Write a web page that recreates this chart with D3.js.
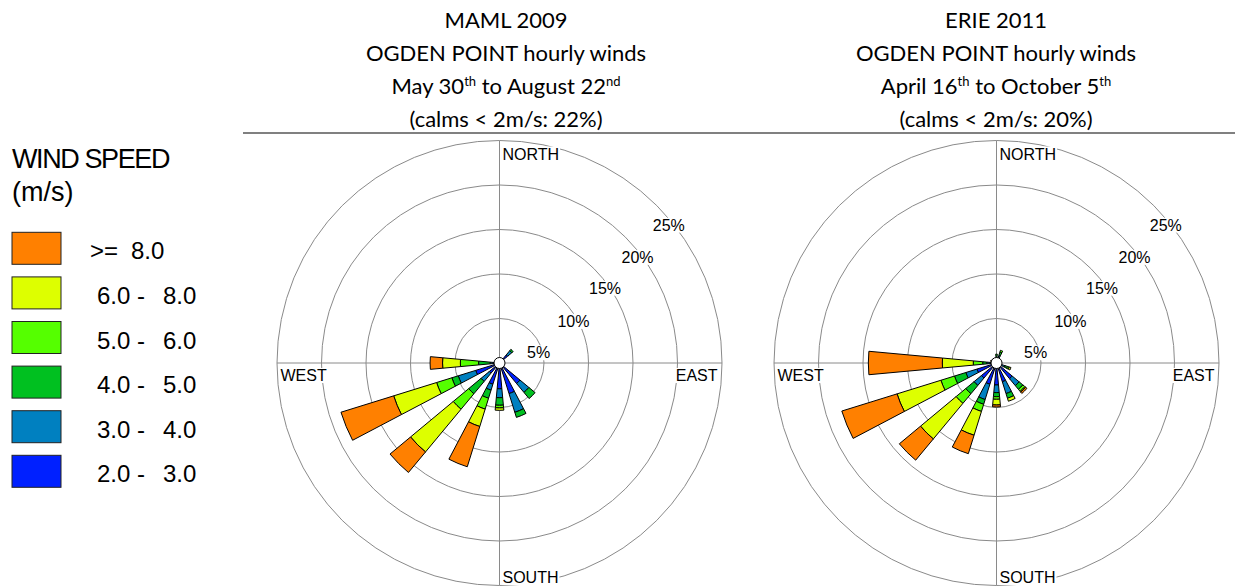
<!DOCTYPE html>
<html>
<head>
<meta charset="utf-8">
<script src="https://cdn.jsdelivr.net/npm/d3@7"></script>
<style>
  body { margin: 0; background: #fff; }
  svg { display: block; }
</style>
</head>
<body>
<svg id="chart" width="1235" height="587"></svg>
<script>
// ---- data -------------------------------------------------------------
const directions = ["N","NNE","NE","ENE","E","ESE","SE","SSE","S","SSW","SW","WSW","W","WNW","NW","NNW"];
const speedClasses = ["2.0 - 3.0","3.0 - 4.0","4.0 - 5.0","5.0 - 6.0","6.0 - 8.0",">= 8.0"];
const classColors = ["#0020ff","#0080c0","#00c020","#55ff00","#ddff00","#ff8000"];
const ringTicks = [5, 10, 15, 20, 25];

// MAML 2009, frequency (%) per direction for each speed class
const maml2to3 = [0.2,0.2,1.2,0.2,0.2,0.3,3.0,3.6,2.9,2.5,1.5,2.8,0.5,0.3,0.2,0.2];
const maml3to4 = [0,0,0.6,0,0,0.1,1.3,2.2,1.0,0.7,1.2,2.05,0.55,0.1,0,0];
const maml4to5 = [0,0,0.2,0,0,0,0.9,0.6,0.85,0.95,1.8,0.75,1.3,0,0,0];
const maml5to6 = [0,0,0,0,0,0,0,0,0.3,1.28,2.26,1.8,2.05,0,0,0];
const maml6to8 = [0,0,0,0,0,0,0,0,0.27,2.04,6.24,5.05,2.0,0,0,0];
const maml8up  = [0,0,0,0,0,0,0,0,0,4.74,3.0,6.2,1.4,0,0,0];

// ERIE 2011, frequency (%) per direction for each speed class
const erie2to3 = [0.4,0.5,0.3,0.2,0.2,0.6,2.3,2.2,2.47,2.5,2.2,2.3,0.5,0.3,0.4,0.2];
const erie3to4 = [0.3,0.4,0.1,0,0,0.4,1.0,1.4,0.86,1.8,1.08,1.3,0.6,0.2,0.2,0];
const erie4to5 = [0.3,0.4,0,0,0,0.3,0.55,0.55,0.46,0.56,1.21,1.34,0.45,0.1,0,0];
const erie5to6 = [0,0.2,0,0,0,0.2,0.3,0,0.29,0.84,1.41,1.6,1.06,0,0,0];
const erie6to8 = [0,0,0,0,0,0.2,0.1,0.35,0.64,2.8,5.2,5.16,3.48,0,0,0];
const erie8up  = [0,0,0,0,0,0,0.2,0,0.22,2.17,3.1,6.5,8.31,0.1,0,0];

const mamlTitle = [
  [["MAML 2009"]],
  [["OGDEN POINT hourly winds"]],
  [["May 30"],["th",true],[" to August 22"],["nd",true]],
  [["(calms < 2m/s: 22%)"]]
];
const erieTitle = [
  [["ERIE 2011"]],
  [["OGDEN POINT hourly winds"]],
  [["April 16"],["th",true],[" to October 5"],["th",true]],
  [["(calms < 2m/s: 20%)"]]
];

// ---- layout -----------------------------------------------------------
const svg = d3.select("#chart");
const R = 222.5;
const rScale = d3.scaleLinear().domain([0, 25]).range([0, R]);
const toRad = d => d * Math.PI / 180;
const dirAngle = d3.scalePoint().domain(directions).range([0, 337.5]);
const barHalfWidth = toRad(5.25);
const tickLabelAngles = [75, 60.5, 54.6, 52.5, 50.8];
const grid = "#8a8a8a";
const titleFont = "Lato,'Open Sans',sans-serif";
const labelFont = "'Liberation Sans',Arial,sans-serif";

function polar(r, deg) {
  const a = toRad(deg);
  return [r * Math.sin(a), -r * Math.cos(a)];
}

function labelWithBg(g, x, y, text, opts) {
  const t = g.append("text")
    .attr("x", x).attr("y", y)
    .attr("font-family", labelFont)
    .attr("font-size", opts.size)
    .attr("text-anchor", opts.anchor || "start")
    .attr("fill", "#000")
    .text(text);
  if (opts.dy) t.attr("dy", opts.dy);
  const bb = t.node().getBBox();
  g.insert("rect", () => t.node())
    .attr("x", bb.x - 1).attr("y", bb.y + 1)
    .attr("width", bb.width + 2).attr("height", bb.height - 2)
    .attr("fill", "#fff");
  return t;
}

function drawRose(cx, cy, series) {
  const g = svg.append("g").attr("transform", `translate(${cx},${cy})`);

  // rings and compass cross
  g.selectAll("circle.ring").data(ringTicks).join("circle")
    .attr("class", "ring")
    .attr("r", d => rScale(d))
    .attr("fill", "none").attr("stroke", grid).attr("stroke-width", 1);
  g.append("line").attr("x1", -R).attr("x2", R).attr("y1", 0).attr("y2", 0)
    .attr("stroke", grid).attr("stroke-width", 1);
  g.append("line").attr("x1", 0).attr("x2", 0).attr("y1", -R).attr("y2", R)
    .attr("stroke", grid).attr("stroke-width", 1);

  // ring percentage labels
  const lg = g.append("g");
  ringTicks.forEach((t, i) => {
    const [x, y] = polar(rScale(t) - 4, tickLabelAngles[i]);
    labelWithBg(lg, x, y, t + "%", { size: 16, anchor: "middle", dy: "0.36em" });
  });

  // compass labels
  const cg = g.append("g");
  labelWithBg(cg, 3, -R + 19, "NORTH", { size: 16 });
  labelWithBg(cg, 3, R - 2.5, "SOUTH", { size: 16 });
  labelWithBg(cg, -R + 3.5, 18, "WEST", { size: 16 });
  labelWithBg(cg, R - 4.5, 18, "EAST", { size: 16, anchor: "end" });

  // stacked wedges
  const arc = d3.arc();
  const segs = [];
  directions.forEach((dir, i) => {
    let cum = 0;
    const a = toRad(dirAngle(dir));
    series.forEach((vals, k) => {
      const v = vals[i];
      if (v > 0) {
        segs.push({ k, a, r0: rScale(cum), r1: rScale(cum + v) });
        cum += v;
      }
    });
  });
  g.append("g").selectAll("path").data(segs).join("path")
    .attr("d", d => arc({ innerRadius: d.r0, outerRadius: d.r1,
                          startAngle: d.a - barHalfWidth, endAngle: d.a + barHalfWidth }))
    .attr("fill", d => classColors[d.k])
    .attr("stroke", "#000").attr("stroke-width", 1).attr("stroke-linejoin", "round");

  // calm circle
  g.append("circle").attr("r", 5.5).attr("fill", "#fff").attr("stroke", "#000").attr("stroke-width", 1);
}

function drawTitle(cx, lines) {
  const baselines = [28, 61, 94, 127];
  lines.forEach((parts, i) => {
    const t = svg.append("text")
      .attr("x", cx).attr("y", baselines[i])
      .attr("text-anchor", "middle")
      .attr("font-family", titleFont)
      .attr("font-size", 22)
      .attr("fill", "#000");
    parts.forEach(([s, sup]) => {
      const sp = t.append("tspan").text(s);
      if (sup) sp.attr("font-size", 13).attr("baseline-shift", "65%");
    });
  });
}

// titles and rule
drawTitle(506, mamlTitle);
drawTitle(996, erieTitle);
svg.append("line").attr("x1", 243).attr("x2", 1235).attr("y1", 133).attr("y2", 133)
  .attr("stroke", "#808080").attr("stroke-width", 2);

// roses
drawRose(499.5, 363, [maml2to3, maml3to4, maml4to5, maml5to6, maml6to8, maml8up]);
drawRose(996.5, 363, [erie2to3, erie3to4, erie4to5, erie5to6, erie6to8, erie8up]);

// legend
const leg = svg.append("g");
leg.append("text").attr("x", 12).attr("y", 168)
  .attr("font-family", labelFont).attr("font-size", 27).attr("letter-spacing", -1.4)
  .text("WIND SPEED");
leg.append("text").attr("x", 12).attr("y", 201)
  .attr("font-family", labelFont).attr("font-size", 27)
  .text("(m/s)");
const legendOrder = d3.range(speedClasses.length).reverse();
const legY = d3.scaleLinear().domain([0, 1]).range([232.3, 276.9]);
legendOrder.forEach((k, i) => {
  const y = legY(i);
  leg.append("rect").attr("x", 12).attr("y", y).attr("width", 49).attr("height", 32)
    .attr("fill", classColors[k]).attr("stroke", "#222").attr("stroke-width", 1);
  const parts = speedClasses[k].split(/\s+-\s+|\s+/);
  const base = y + 27;
  if (speedClasses[k].startsWith(">=")) {
    leg.append("text").attr("x", 90).attr("y", base)
      .attr("font-family", labelFont).attr("font-size", 24).text(">=");
    leg.append("text").attr("x", 131).attr("y", base)
      .attr("font-family", labelFont).attr("font-size", 24).text(parts[1]);
  } else {
    leg.append("text").attr("x", 97).attr("y", base)
      .attr("font-family", labelFont).attr("font-size", 24).text(parts[0] + " -");
    leg.append("text").attr("x", 163).attr("y", base)
      .attr("font-family", labelFont).attr("font-size", 24).text(parts[1]);
  }
});
</script>
</body>
</html>
